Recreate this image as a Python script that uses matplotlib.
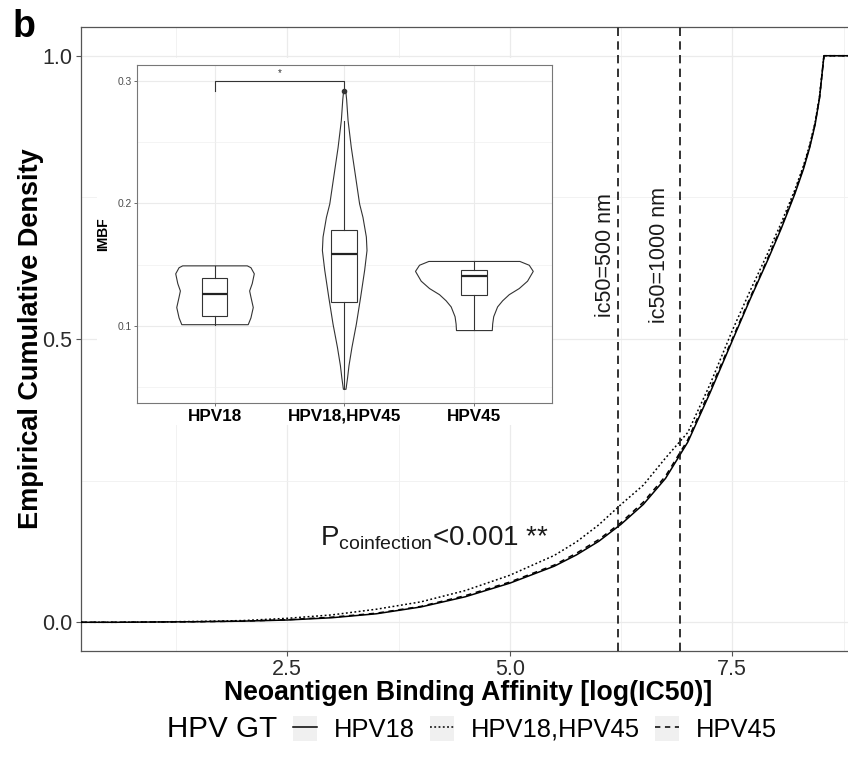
import numpy as np
import matplotlib
matplotlib.use('Agg')
import matplotlib.pyplot as plt
from matplotlib.patches import Rectangle
from matplotlib.lines import Line2D
from matplotlib.legend_handler import HandlerTuple
from matplotlib.ticker import FixedLocator

plt.rcParams['font.family'] = ['Liberation Sans', 'DejaVu Sans']
plt.rcParams['mathtext.fontset'] = 'custom'
plt.rcParams['mathtext.rm'] = 'Liberation Sans'
plt.rcParams['mathtext.it'] = 'Liberation Sans:italic'
plt.rcParams['mathtext.bf'] = 'Liberation Sans:bold'

# ---------------- data ----------------
groups = ['HPV18', 'HPV18,HPV45', 'HPV45']

affinity = [0.585, 1.0, 1.5, 2.0, 2.5, 3.0, 3.5, 4.0, 4.5, 5.0, 5.5, 5.75, 6.0,
            6.25, 6.5, 6.75, 7.0, 7.25, 7.5, 7.7, 7.9, 8.05, 8.2, 8.3, 8.37, 8.43, 8.48, 8.53]
ecdf_hpv18 = [0.0, 0.0005, 0.001, 0.002, 0.004, 0.008, 0.015, 0.027, 0.045, 0.069, 0.099, 0.119, 0.143,
              0.173, 0.208, 0.254, 0.318, 0.405, 0.497, 0.57, 0.64, 0.695, 0.755, 0.80, 0.838, 0.878, 0.925, 1.0]
ecdf_coinf = [0.0, 0.0006, 0.0015, 0.003, 0.007, 0.013, 0.023, 0.036, 0.056, 0.083, 0.118, 0.142, 0.172,
              0.208, 0.242, 0.290, 0.335, 0.42, 0.515, 0.585, 0.652, 0.705, 0.762, 0.806, 0.843, 0.882, 0.928, 1.0]
ecdf_hpv45 = [0.0, 0.0005, 0.001, 0.002, 0.0045, 0.009, 0.016, 0.028, 0.047, 0.071, 0.101, 0.122, 0.146,
              0.176, 0.212, 0.258, 0.322, 0.41, 0.50, 0.573, 0.643, 0.698, 0.758, 0.803, 0.840, 0.880, 0.926, 1.0]
ecdf_series = [ecdf_hpv18, ecdf_coinf, ecdf_hpv45]
ic50_cutoffs = [500, 1000]
cutoff_labels = ['ic50=500 nm', 'ic50=1000 nm']

# inset: violin outlines (IMBF value, half width) and box statistics
violin_imbf = [
    [0.1015, 0.107, 0.1155, 0.124, 0.129, 0.135, 0.143, 0.148, 0.1495],
    [0.0488, 0.058, 0.068, 0.083, 0.102, 0.124, 0.146, 0.162, 0.173, 0.189, 0.200, 0.218,
     0.246, 0.268, 0.285, 0.2925],
    [0.0967, 0.102, 0.108, 0.116, 0.121, 0.126, 0.131, 0.137, 0.145, 0.150, 0.1531],
]
violin_halfwidth = [
    [0.256, 0.277, 0.295, 0.277, 0.267, 0.287, 0.303, 0.277, 0.249],
    [0.010, 0.022, 0.033, 0.056, 0.090, 0.123, 0.154, 0.172, 0.167, 0.141, 0.115, 0.090,
     0.051, 0.026, 0.015, 0.008],
    [0.138, 0.141, 0.149, 0.179, 0.218, 0.269, 0.346, 0.410, 0.454, 0.423, 0.351],
]
box_whislo = [0.1011, 0.0488, 0.0967]
box_q1 = [0.1079, 0.1193, 0.1252]
box_med = [0.1259, 0.1591, 0.1412]
box_q3 = [0.1392, 0.1787, 0.1455]
box_whishi = [0.1493, 0.2673, 0.1531]
box_fliers = [[], [0.2918], []]
sig_pair = ('HPV18', 'HPV18,HPV45')
sig_y = 0.300
sig_label = '*'

# ---------------- figure ----------------
W, H = 848, 757
fig = plt.figure(figsize=(W / 100, H / 100), dpi=100)
fig.patch.set_facecolor('white')

def fx(px):
    return px / W

def fy(py):
    return 1 - py / H

ax = fig.add_axes([fx(81), fy(650.6), fx(860) - fx(81), fy(27.4) - fy(650.6)], zorder=1)
xlim = (0.182, 8.935)
ax.set_xlim(*xlim)
ax.set_ylim(-0.05, 1.05)

ax.xaxis.set_major_locator(FixedLocator([2.5, 5.0, 7.5]))
ax.xaxis.set_minor_locator(FixedLocator([1.25, 3.75, 6.25, 8.75]))
ax.yaxis.set_major_locator(FixedLocator([0.0, 0.5, 1.0]))
ax.yaxis.set_minor_locator(FixedLocator([0.25, 0.75]))
ax.set_xticklabels(['2.5', '5.0', '7.5'])
ax.set_yticklabels(['0.0', '0.5', '1.0'])
ax.grid(True, which='major', color='#ebebeb', lw=0.9)
ax.grid(True, which='minor', color='#f0f0f0', lw=0.6)
ax.set_axisbelow(True)
ax.tick_params(which='major', length=3.6, width=0.8, color='#555555', labelsize=15.5,
               labelcolor='#2b2b2b', pad=2.5)
ax.tick_params(which='minor', length=0)
for s in ax.spines.values():
    s.set_color('#555555')
    s.set_linewidth(0.9)

styles = ['-', (0, (1.2, 1.6)), (0, (3.5, 3))]
handles = []
for vals, ls, g in zip(ecdf_series, styles, groups):
    xs = np.r_[xlim[0], affinity, xlim[1]]
    ys = np.r_[0.0, vals, 1.0]
    ln, = ax.plot(xs, ys, color='black', lw=1.1, ls=ls, zorder=3)
    handles.append(ln)

cut_pos = np.log(ic50_cutoffs)
for xv, lab, tx in zip(cut_pos, cutoff_labels, [6.07, 6.685]):
    ax.axvline(xv, color='#111111', lw=1.2, ls=(0, (5, 3.2)), zorder=4)
    ax.text(tx, 0.648, lab, rotation=90, ha='center', va='center', fontsize=15.5,
            color='#1a1a1a', zorder=5)

ax.text(4.15, 0.135, r'$\mathregular{P_{coinfection}}$<0.001 **', ha='center', va='baseline',
        fontsize=20, color='#1a1a1a', zorder=5)

fig.text(fx(31), fy(339), 'Empirical Cumulative Density', rotation=90, ha='center', va='center',
         fontsize=19.5, fontweight='bold')
fig.text(fx(468), fy(693), 'Neoantigen Binding Affinity [log(IC50)]', ha='center', va='center',
         fontsize=19.2, fontweight='bold')
fig.text(fx(13), fy(9), 'b', ha='left', va='top', fontsize=27, fontweight='bold')

# white background behind inset
fig.add_artist(Rectangle((fx(97), fy(425)), fx(553) - fx(97), fy(58) - fy(425),
                         transform=fig.transFigure, facecolor='white', edgecolor='none', zorder=2))

# ---------------- inset ----------------
ins = fig.add_axes([fx(136.7), fy(402.5), fx(551.7) - fx(136.7), fy(65) - fy(402.5)], zorder=3)
ins.set_facecolor('white')
positions = [1, 2, 3]
for c, yv, wv in zip(positions, violin_imbf, violin_halfwidth):
    yv = np.array(yv)
    wv = np.array(wv)
    ins.fill_betweenx(yv, c - wv, c + wv, facecolor='white', edgecolor='#333333', lw=0.8, zorder=2)

stats = []
for i, g in enumerate(groups):
    stats.append(dict(whislo=box_whislo[i], q1=box_q1[i], med=box_med[i], q3=box_q3[i],
                      whishi=box_whishi[i], fliers=box_fliers[i], label=g))
ins.bxp(stats, positions=positions, widths=0.2, showcaps=False, showfliers=True, patch_artist=True,
        boxprops=dict(facecolor='white', edgecolor='#333333', lw=0.8),
        medianprops=dict(color='#222222', lw=1.6),
        whiskerprops=dict(color='#333333', lw=0.8),
        flierprops=dict(marker='o', markersize=3, markerfacecolor='#333333', markeredgecolor='#333333'),
        zorder=3)

p1 = positions[groups.index(sig_pair[0])]
p2 = positions[groups.index(sig_pair[1])]
ins.plot([p1, p1, p2, p2], [sig_y - 0.008, sig_y, sig_y, sig_y - 0.007], color='#333333', lw=0.8,
         zorder=4)
ins.text((p1 + p2) / 2, sig_y + 0.002, sig_label, ha='center', va='bottom', fontsize=7, color='#333333')

ins.set_xlim(0.4, 3.6)
ins.set_ylim(0.0376, 0.313)
ins.xaxis.set_major_locator(FixedLocator(positions))
ins.set_xticklabels(groups)
ins.yaxis.set_major_locator(FixedLocator([0.1, 0.2, 0.3]))
ins.yaxis.set_minor_locator(FixedLocator([0.05, 0.15, 0.25]))
ins.set_yticklabels(['0.1', '0.2', '0.3'])
ins.grid(True, which='major', color='#ebebeb', lw=0.8)
ins.grid(True, which='minor', axis='y', color='#f0f0f0', lw=0.5)
ins.set_axisbelow(True)
ins.tick_params(axis='y', which='major', length=2.5, width=0.6, color='#555555', labelsize=7.4,
                labelcolor='#4d4d4d', pad=1)
ins.tick_params(axis='x', which='major', length=2.5, width=0.6, color='#555555', labelsize=12.3,
                labelcolor='black', pad=2)
ins.tick_params(which='minor', length=0)
for lbl in ins.get_xticklabels():
    lbl.set_fontweight('bold')
for s in ins.spines.values():
    s.set_color('#777777')
    s.set_linewidth(0.8)
ins.set_ylabel('IMBF', fontsize=10, fontweight='bold')
ins.yaxis.set_label_coords(-0.065, 0.5)

# ---------------- legend ----------------
key_bg = [Rectangle((0, 0), 1, 1, facecolor='#f0f0f0', edgecolor='none') for _ in groups]
leg_handles = [(bg, Line2D([], [], color='black', lw=1.1, ls=ls))
               for bg, ls in zip(key_bg, styles)]
leg = fig.legend(leg_handles, groups, loc='center', bbox_to_anchor=(fx(535), fy(729)), ncol=3,
                 frameon=False, fontsize=18.4, handlelength=0.94, handleheight=1.1,
                 handletextpad=0.67, columnspacing=0.59, borderpad=0,
                 handler_map={tuple: HandlerTuple(ndivide=1, pad=0)})
fig.text(fx(167), fy(729), 'HPV GT', ha='left', va='center', fontsize=21.3)

fig.savefig('out.png', dpi=100)
